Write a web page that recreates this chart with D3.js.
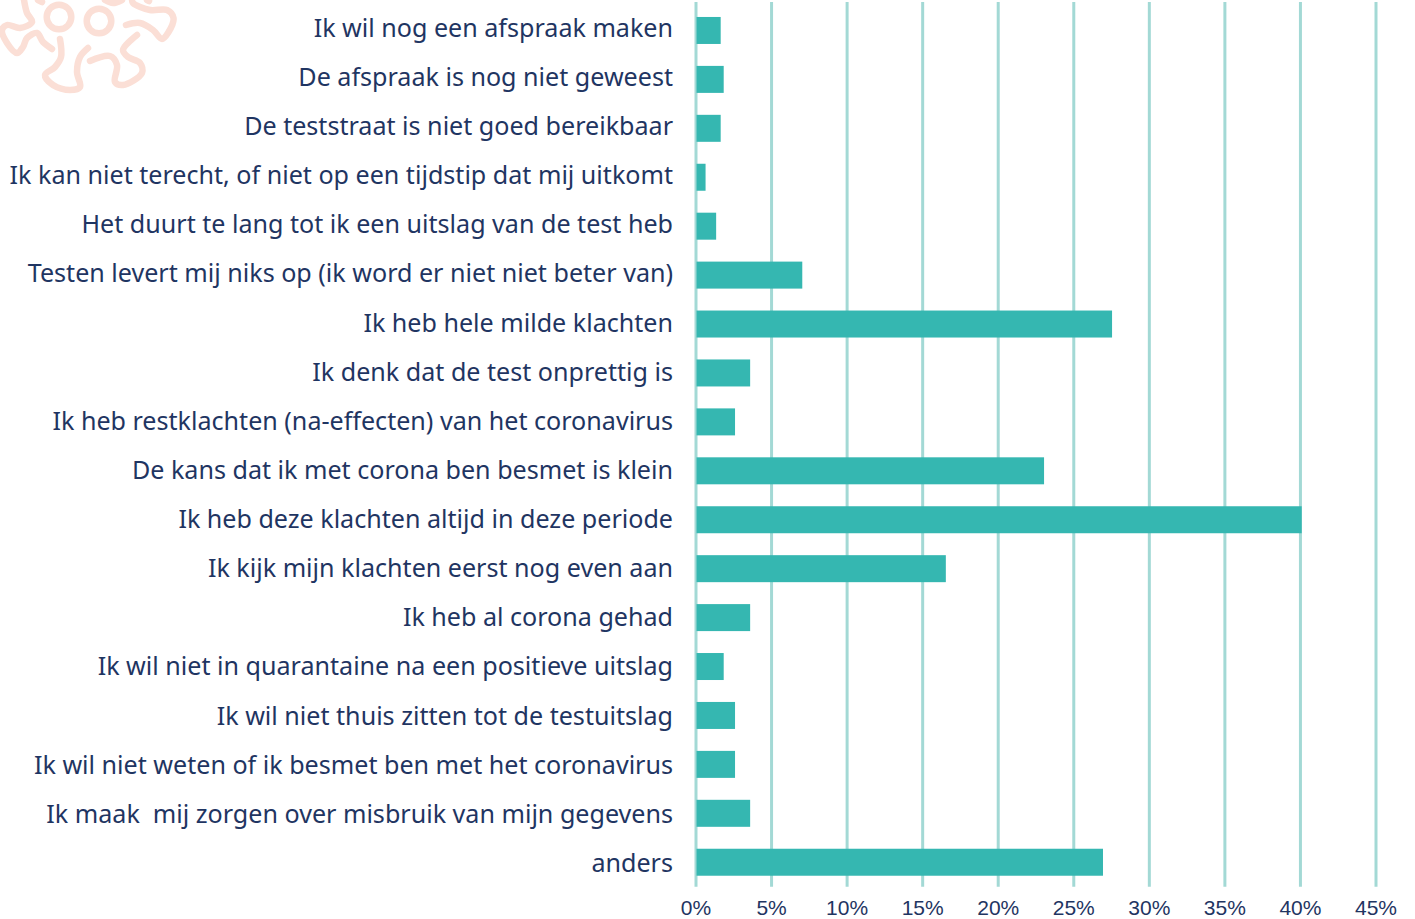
<!DOCTYPE html>
<html><head><meta charset="utf-8">
<style>html,body{margin:0;padding:0;background:#fff;overflow:hidden}svg{display:block}</style>
<script src="https://cdn.jsdelivr.net/npm/d3@7"></script></head><body>
<script>
const categories=["Ik wil nog een afspraak maken","De afspraak is nog niet geweest","De teststraat is niet goed bereikbaar","Ik kan niet terecht, of niet op een tijdstip dat mij uitkomt","Het duurt te lang tot ik een uitslag van de test heb","Testen levert mij niks op (ik word er niet niet beter van)","Ik heb hele milde klachten","Ik denk dat de test onprettig is","Ik heb restklachten (na-effecten) van het coronavirus","De kans dat ik met corona ben besmet is klein","Ik heb deze klachten altijd in deze periode","Ik kijk mijn klachten eerst nog even aan","Ik heb al corona gehad","Ik wil niet in quarantaine na een positieve uitslag","Ik wil niet thuis zitten tot de testuitslag","Ik wil niet weten of ik besmet ben met het coronavirus","Ik maak  mij zorgen over misbruik van mijn gegevens","anders"];
const values=[1.6,1.8,1.6,0.6,1.3,7,27.5,3.55,2.55,23,40.05,16.5,3.55,1.8,2.55,2.55,3.55,26.9];
const tickValues=[0,5,10,15,20,25,30,35,40,45];
const logoStrokes=[[[24,0],[27,13],[32,22],[20,28],[7,25],[2,30],[7,43],[17,53],[23,47],[27,38],[37,33],[43,42],[52,49]],[[60,39],[61,57],[55,67],[45,75],[53,85],[70,90],[80,87],[77,72],[80,57],[88,48]],[[90,61],[110,56],[117,65],[115,82],[123,85],[142,73],[140,63],[128,57],[123,50],[137,35]],[[126,25],[140,23],[153,30],[162,39],[168,33],[173.5,18],[167,10],[150,10],[133,3],[132,0]],[[38,0],[42,2]],[[105,0],[113,3],[122,0]],[[147,0],[149,1]]];
const logoRings=[[59,17],[99,21]];
const W=1415,H=919,ink="#1f3562";
const x=d3.scaleLinear().domain([0,45]).range([696.5,1376.5]);
const y=d3.scaleBand().domain(categories).range([6,886.7]).paddingInner(0.4483).paddingOuter(0.2242);
const yText=d3.scalePoint().domain(categories).range([36.8,872]);
const svg=d3.select("body").append("svg").attr("width",W).attr("height",H);
const logo=svg.append("g").attr("fill","none").attr("stroke","#fbdfd6").attr("stroke-linecap","round").attr("stroke-width",6.5);
const ln=d3.line().curve(d3.curveCatmullRom);
logo.selectAll("path").data(logoStrokes).join("path").attr("d",ln);
logo.selectAll("circle").data(logoRings).join("circle").attr("cx",d=>d[0]).attr("cy",d=>d[1]).attr("r",12.3);
svg.append("g").selectAll("line").data(tickValues).join("line")
 .attr("x1",d=>x(d)-0.5).attr("x2",d=>x(d)-0.5).attr("y1",2).attr("y2",886.7)
 .attr("stroke","#a3d9d5").attr("stroke-width",3);
svg.append("g").selectAll("rect").data(values).join("rect")
 .attr("x",x(0)).attr("y",(d,i)=>y(categories[i])).attr("width",d=>x(d)-x(0)).attr("height",y.bandwidth()).attr("fill","#35b7b1");
svg.append("g").selectAll("text").data(categories).join("text").text(d=>d)
 .style("white-space","pre")
 .attr("x",673).attr("y",d=>yText(d)).attr("text-anchor","end")
 .attr("font-family","'Noto Sans','Open Sans',sans-serif").attr("font-size",25.1).attr("fill",ink);
svg.append("g").selectAll("text").data(tickValues).join("text").text(d=>d+"%")
 .attr("x",d=>x(d)-0.5).attr("y",914.5).attr("text-anchor","middle")
 .attr("font-family","'Liberation Sans',sans-serif").attr("font-size",21).attr("fill",ink);
</script></body></html>
